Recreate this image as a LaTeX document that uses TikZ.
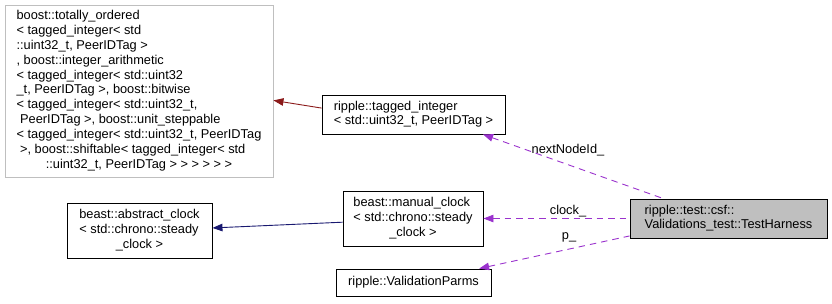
\documentclass[tikz,border=0pt]{standalone}
\usepackage{fontspec}
\setmainfont{Liberation Sans}
\usetikzlibrary{arrows.meta}
\definecolor{grey75}{HTML}{BFBFBF}
\definecolor{firebrick}{HTML}{8B1A1A}
\definecolor{midnight}{HTML}{191970}
\definecolor{orchid}{HTML}{9A32CD}
\begin{document}
\begin{tikzpicture}[x=1pt,y=-1pt,
  every node/.style={font=\fontsize{12.8}{14.9}\selectfont, inner sep=0pt},
  cls/.style={draw=black, line width=0.9pt, fill=white, minimum width=#1},
  boxh/.style={minimum height=#1},
  lbl/.style={},
  uses/.style={line width=0.9pt, draw=orchid, dash pattern=on 6.5pt off 5pt,
    {Triangle[length=10pt,width=7.5pt,fill=orchid]}-},
]
\useasboundingbox (0,0) rectangle (832,303);

\node[cls=268, boxh=172, draw=grey75] (ordered) at (139,91) {%
  \begin{tabular}{@{}l@{}}
  boost::totally\_ordered\\
  < tagged\_integer< std\\
  ::uint32\_t, PeerIDTag >\\
  , boost::integer\_arithmetic\\
  < tagged\_integer< std::uint32\\
  \_t, PeerIDTag >, boost::bitwise\\
  < tagged\_integer< std::uint32\_t,\\
  \ PeerIDTag >, boost::unit\_steppable\\
  < tagged\_integer< std::uint32\_t, PeerIDTag\\
  \ >, boost::shiftable< tagged\_integer< std\\
  \multicolumn{1}{@{}c@{}}{::uint32\_t, PeerIDTag > > > > > >}
  \end{tabular}};

\node[cls=183, boxh=39] (tagged) at (413.5,114.5) {%
  \begin{tabular}{@{}l@{}}
  ripple::tagged\_integer\\
  < std::uint32\_t, PeerIDTag >
  \end{tabular}};

\node[cls=145, boxh=55] (abstract) at (139.5,230.5) {%
  \begin{tabular}{@{}l@{}}
  beast::abstract\_clock\\
  < std::chrono::steady\\
  \multicolumn{1}{@{}c@{}}{\_clock >}
  \end{tabular}};

\node[cls=140, boxh=55] (manual) at (413,218.5) {%
  \begin{tabular}{@{}l@{}}
  beast::manual\_clock\\
  < std::chrono::steady\\
  \multicolumn{1}{@{}c@{}}{\_clock >}
  \end{tabular}};

\node[cls=155, boxh=27] (params) at (413.5,282.5) {ripple::ValidationParms};

\node[cls=197, boxh=39, fill=grey75] (harness) at (728.5,218.5) {%
  \begin{tabular}{@{}l@{}}
  ripple::test::csf::\\
  Validations\_test::TestHarness
  \end{tabular}};

% inheritance
\draw[line width=0.9pt, draw=firebrick, {Triangle[length=10pt,width=7.5pt,fill=firebrick]}-]
  (ordered.-4.7) -- (tagged.176);
\draw[line width=0.9pt, draw=midnight, {Triangle[length=10pt,width=7.5pt,fill=midnight]}-]
  (abstract.2.8) -- (manual.183);

% usage relations
\draw[uses] (tagged.-16.3) -- (harness.163.4);
\draw[uses] (manual.0) -- (harness.180);
\draw[uses] (params.12.2) -- (harness.190.6);

\node[lbl] (lnext) at (568,150) {nextNodeId\_};
\node[lbl] (lclock) at (568,211) {clock\_};
\node[lbl] (lp) at (569,237) {p\_};
\end{tikzpicture}
\end{document}
